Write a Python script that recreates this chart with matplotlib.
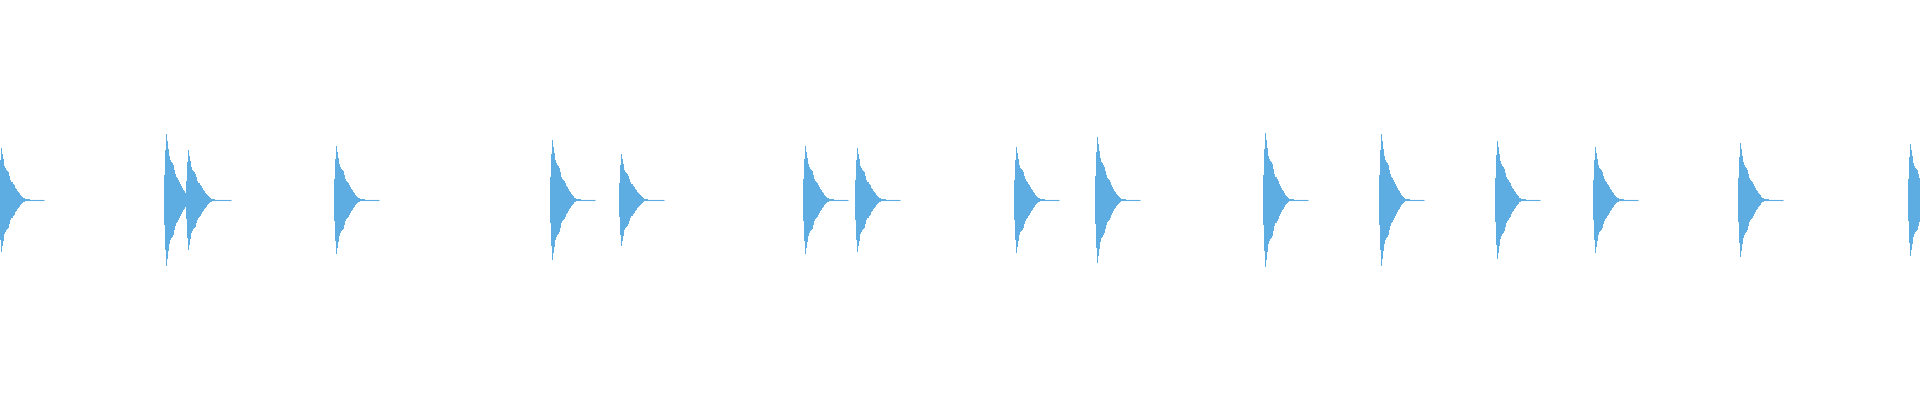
import matplotlib
matplotlib.use("Agg")
import matplotlib.pyplot as plt
import numpy as np

# onset of each hit (pixel columns) and its peak amplitude (fraction of half height)
onsets = [-1, 164, 186, 334, 550, 619, 803, 855, 1014, 1095, 1263, 1379, 1495, 1593, 1738, 1908]
peaks = [0.26, 0.33, 0.25, 0.27, 0.30, 0.23, 0.27, 0.26, 0.265, 0.315, 0.335, 0.33, 0.295, 0.265, 0.285, 0.28]

# decay shape of one hit (relative to peak)
envelope = [0.38, 0.76, 1.0, 0.89, 0.78, 0.66, 0.61, 0.58, 0.56, 0.53, 0.46, 0.39,
            0.35, 0.34, 0.31, 0.28, 0.24, 0.21, 0.18, 0.15, 0.13, 0.10, 0.08, 0.06,
            0.04, 0.03, 0.02, 0.02, 0.02, 0.01, 0.01]
tail_len = 45  # hit length incl. the flat tail, in pixels

color = "#5DADE2"

fig = plt.figure(figsize=(19.2, 4), dpi=100)
ax = fig.add_axes([0, 0, 1, 1])

for i, (t0, pk) in enumerate(zip(onsets, peaks)):
    end = t0 + tail_len
    if i + 1 < len(onsets):
        end = min(end, onsets[i + 1])
    n = int(end - t0)
    x = t0 + np.arange(n + 1)
    env = np.zeros(n + 1)
    m = min(len(envelope), n + 1)
    env[:m] = np.array(envelope[:m]) * pk
    ax.fill_between(x, -env, env, step="post", color=color, lw=0)
    if n + 1 > len(envelope) - 6:
        xs = x[len(envelope) - 6:]
        ax.plot(xs, np.zeros(len(xs)), color=color, lw=0.8, solid_capstyle="butt")

ax.set_xlim(0, 1920)
ax.set_ylim(-1, 1)
ax.axis("off")
fig.savefig("out.png", dpi=100)
